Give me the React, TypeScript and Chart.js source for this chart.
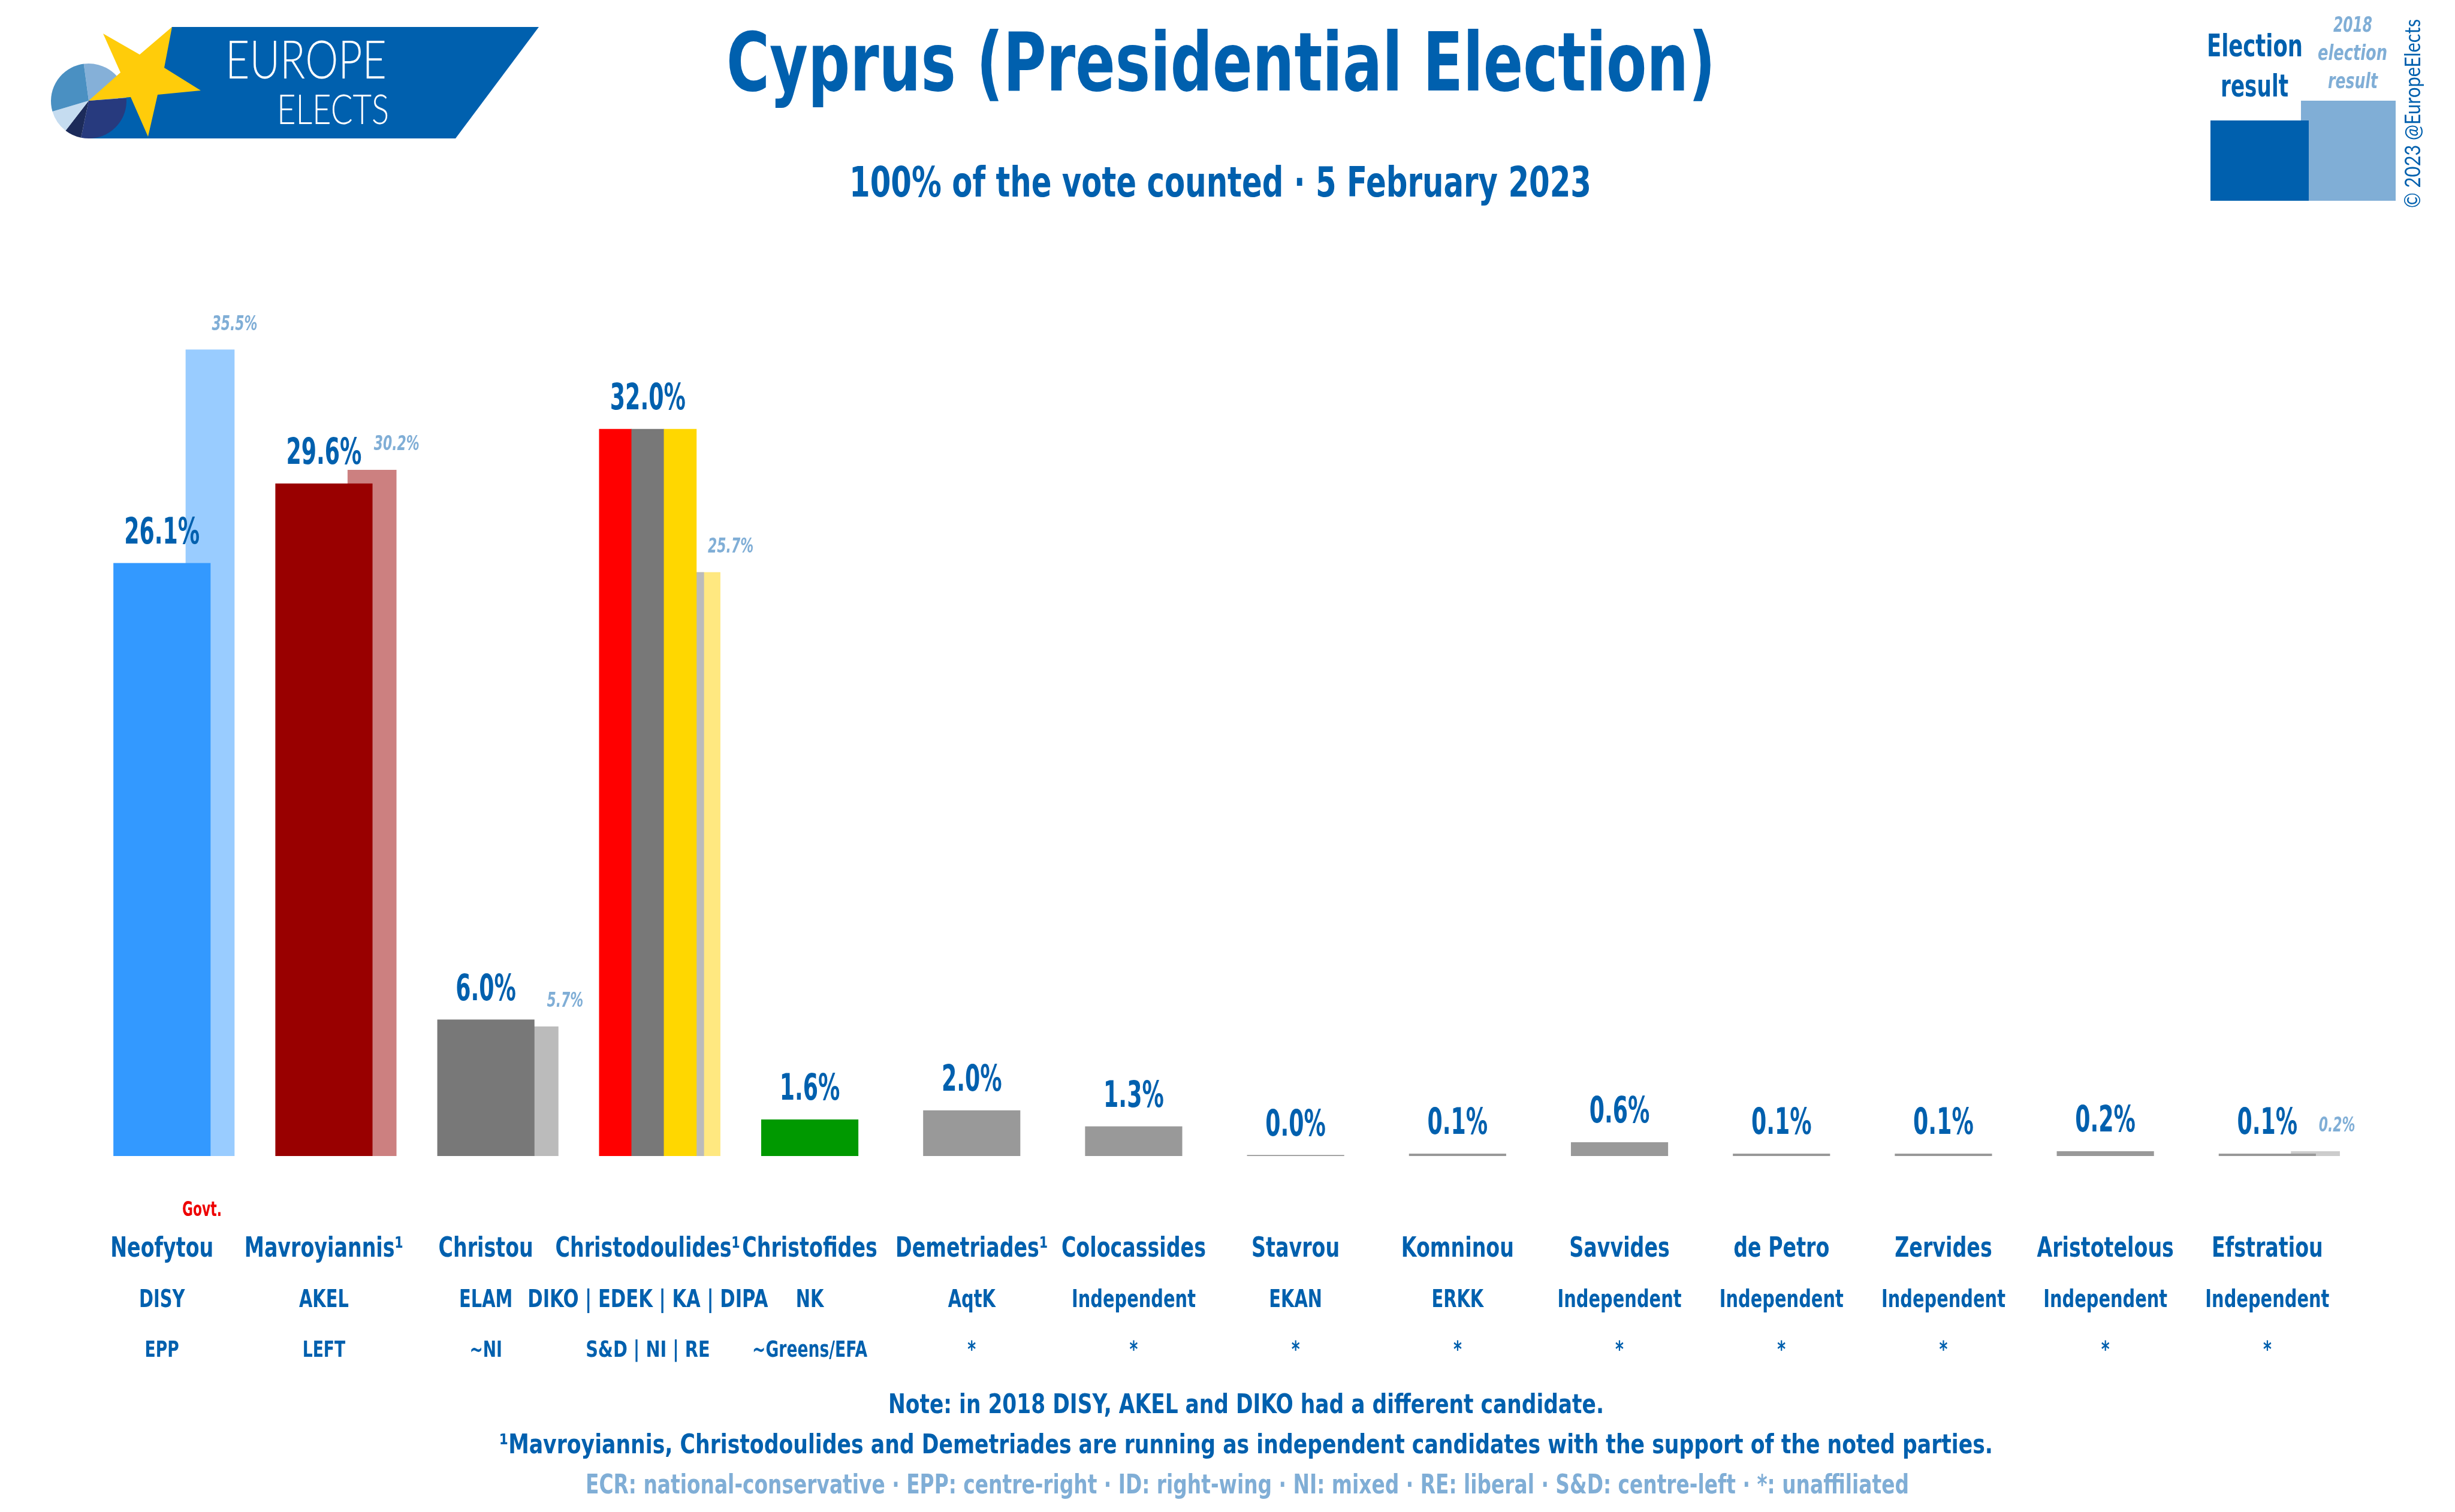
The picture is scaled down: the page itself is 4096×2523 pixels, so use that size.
import React, { useEffect, useRef } from "react";
import { Chart, registerables } from "chart.js";

Chart.register(...registerables);

const candidates = ["Neofytou", "Mavroyiannis¹", "Christou", "Christodoulides¹", "Christofides", "Demetriades¹", "Colocassides", "Stavrou", "Komninou", "Savvides", "de Petro", "Zervides", "Aristotelous", "Efstratiou"];
const parties = ["DISY", "AKEL", "ELAM", "DIKO | EDEK | KA | DIPA", "NK", "AqtK", "Independent", "EKAN", "ERKK", "Independent", "Independent", "Independent", "Independent", "Independent"];
const groups = ["EPP", "LEFT", "~NI", "S&D | NI | RE", "~Greens/EFA", "*", "*", "*", "*", "*", "*", "*", "*", "*"];
const results = [26.1, 29.6, 6.0, 32.0, 1.6, 2.0, 1.3, 0.0, 0.1, 0.6, 0.1, 0.1, 0.2, 0.1];
const resultColors = ["#3399FF", "#990000", "#787878", "rgba(0,0,0,0)", "#009900", "#999999", "#999999", "#999999", "#999999", "#999999", "#999999", "#999999", "#999999", "#999999"];
const previous = [35.5, 30.2, 5.7, 25.7, null, null, null, null, null, null, null, null, null, 0.2];
const previousColors = ["#99CCFF", "#CC8080", "#BBBBBB", "#FFE880", "#FFFFFF", "#FFFFFF", "#FFFFFF", "#FFFFFF", "#FFFFFF", "#FFFFFF", "#FFFFFF", "#FFFFFF", "#FFFFFF", "#CCCCCC"];
const previousLabelNudge = [0, 0, 11, 17, 0, 0, 0, 0, 0, 0, 0, 0, 0, -5];
const coalitionIndex = 3;
const coalitionColors = ["#FF0000", "#787878", "#FFD700"];
const coalitionOffsets = [-0.2, 0, 0.2];
const previousOffset = 0.297;

const BLUE = "#0060AE";
const PALE = "#80AED6";
const FONT = "DejaVu Sans";
const LOGO_FONT = "Lato";

function put(ctx: any, text: string, x: number, y: number, font: string, color: string, hscale = 1, align: any = "center") {
  ctx.save();
  ctx.font = font;
  ctx.fillStyle = color;
  ctx.textAlign = align;
  ctx.textBaseline = "alphabetic";
  ctx.translate(x, y);
  ctx.scale(hscale, 1);
  ctx.fillText(text, 0, 0);
  ctx.restore();
}

function fit(ctx: any, text: string, left: number, right: number, y: number, font: string, color: string) {
  ctx.save();
  ctx.font = font;
  const w = ctx.measureText(text).width;
  ctx.restore();
  put(ctx, text, (left + right) / 2, y, font, color, (right - left) / w);
}

function scaleFor(ctx: any, sample: string, width: number, font: string) {
  ctx.save();
  ctx.font = font;
  const w = ctx.measureText(sample).width;
  ctx.restore();
  return width / w;
}

function poly(ctx: any, pts: number[][], color: string) {
  ctx.fillStyle = color;
  ctx.beginPath();
  pts.forEach((p, i) => (i ? ctx.lineTo(p[0], p[1]) : ctx.moveTo(p[0], p[1])));
  ctx.closePath();
  ctx.fill();
}

function drawLogo(ctx: any) {
  poly(ctx, [[287, 45], [899, 45], [760, 231], [147, 231]], BLUE);
  const slices: [number, number, string][] = [
    [-97.5, -4.6, "#85B0D8"],
    [-4.6, 101.8, "#273A7E"],
    [101.8, 127.8, "#1C2B5A"],
    [127.8, 163.8, "#C5DCF0"],
    [163.8, 262.5, "#4A90C2"],
  ];
  slices.forEach(([a, b, c]) => {
    ctx.fillStyle = c;
    ctx.beginPath();
    ctx.moveTo(148, 168);
    ctx.ellipse(148, 168.5, 63, 62.5, 0, (a * Math.PI) / 180, (b * Math.PI) / 180);
    ctx.closePath();
    ctx.fill();
  });
  poly(ctx, [[287, 45], [274, 113], [335, 151], [263, 158], [247, 228], [218, 162], [148, 168], [201, 121], [172, 56], [233, 91]], "#FFCC0A");
  fit(ctx, "EUROPE", 376, 645, 131, `300 89px ${LOGO_FONT}`, "#FFFFFF");
  fit(ctx, "ELECTS", 462, 649, 207, `300 69px ${LOGO_FONT}`, "#FFFFFF");
}

function drawLegend(ctx: any) {
  ctx.fillStyle = PALE;
  ctx.fillRect(3839, 168, 158, 167);
  ctx.fillStyle = BLUE;
  ctx.fillRect(3688, 201, 164, 134);
  fit(ctx, "Election", 3682, 3842, 94, `700 52px ${FONT}`, BLUE);
  fit(ctx, "result", 3705, 3818, 161, `700 52px ${FONT}`, BLUE);
  fit(ctx, "2018", 3893, 3958, 53, `italic 700 36px ${FONT}`, PALE);
  fit(ctx, "election", 3867, 3983, 100, `italic 700 36px ${FONT}`, PALE);
  fit(ctx, "result", 3884, 3967, 147, `italic 700 36px ${FONT}`, PALE);
  ctx.save();
  ctx.translate(4038, 347);
  ctx.rotate(-Math.PI / 2);
  fit(ctx, "© 2023 @EuropeElects", 0, 315, 0, `400 37px ${LOGO_FONT}`, BLUE);
  ctx.restore();
}

const overlay = {
  id: "overlay",
  afterDraw(chart: any) {
    const ctx = chart.ctx;
    const xs = chart.scales.x;
    drawLogo(ctx);
    drawLegend(ctx);
    fit(ctx, "Cyprus (Presidential Election)", 1212, 2862, 151, `700 136px ${FONT}`, BLUE);
    fit(ctx, "100% of the vote counted · 5 February 2023", 1417, 2655, 328, `700 70px ${FONT}`, BLUE);

    const main = chart.getDatasetMeta(1).data;
    const old = chart.getDatasetMeta(0).data;
    const vf = `700 60px ${FONT}`;
    const vs = scaleFor(ctx, "29.6%", 126, vf);
    const of = `italic 700 34px ${FONT}`;
    const os = scaleFor(ctx, "35.5%", 76, of);
    results.forEach((v, i) => {
      put(ctx, v.toFixed(1) + "%", main[i].x, main[i].y - 33, vf, BLUE, vs);
      if (previous[i] !== null) {
        put(ctx, previous[i]!.toFixed(1) + "%", old[i].x + 41 + previousLabelNudge[i], old[i].y - 33, of, PALE, os);
      }
    });

    const nf = `700 46px ${FONT}`;
    const ns = scaleFor(ctx, "Neofytou", 172, nf);
    const pf = `700 41px ${FONT}`;
    const ps = scaleFor(ctx, "Independent", 207, pf);
    const gf = `700 37px ${FONT}`;
    const gs = scaleFor(ctx, "~Greens/EFA", 192, gf);
    candidates.forEach((c, i) => {
      const x = xs.getPixelForValue(i);
      put(ctx, c, x, 2097, nf, BLUE, ns);
      put(ctx, parties[i], x, 2181, pf, BLUE, parties[i].includes("|") ? ps * 1.06 : ps);
      put(ctx, groups[i], x, 2264, gf, BLUE, groups[i].includes("|") ? gs * 1.08 : gs);
    });
    fit(ctx, "Govt.", 304, 370, 2029, `700 34px ${FONT}`, "#EE0000");

    const t = `700 45px ${FONT}`;
    fit(ctx, "Note: in 2018 DISY, AKEL and DIKO had a different candidate.", 1482, 2676, 2358, t, BLUE);
    fit(ctx, "¹Mavroyiannis, Christodoulides and Demetriades are running as independent candidates with the support of the noted parties.", 833, 3325, 2425, t, BLUE);
    fit(ctx, "ECR: national-conservative · EPP: centre-right · ID: right-wing · NI: mixed · RE: liberal · S&D: centre-left · *: unaffiliated", 977, 3185, 2492, t, PALE);
  },
};

export default function App() {
  const ref = useRef<HTMLCanvasElement>(null);
  useEffect(() => {
    document.body.style.margin = "0";
    const chart = new Chart(ref.current!, {
      type: "bar",
      data: {
        datasets: [
          {
            label: "2018 election result",
            data: previous.map((y, i) => ({ x: i + previousOffset, y })),
            backgroundColor: previousColors,
            barThickness: 81,
            grouped: false,
            order: 4,
          },
          {
            label: "Election result",
            data: results.map((y, i) => ({ x: i, y })),
            backgroundColor: resultColors,
            barThickness: 161.5,
            grouped: false,
            minBarLength: 1.5,
            order: 2,
          },
          {
            label: "Christodoulides coalition",
            data: coalitionOffsets.map((o) => ({ x: coalitionIndex + o, y: results[coalitionIndex] })),
            backgroundColor: coalitionColors,
            barThickness: 54,
            grouped: false,
            order: 1,
          },
          {
            label: "Christodoulides coalition 2018",
            data: [{ x: coalitionIndex + 0.283, y: previous[coalitionIndex] }],
            backgroundColor: ["#BBBBBB"],
            barThickness: 34,
            grouped: false,
            order: 3,
          },
        ],
      } as any,
      options: {
        animation: false,
        responsive: false,
        devicePixelRatio: 1,
        layout: { padding: { left: 135.15, right: 178.05, top: 413, bottom: 594 } },
        plugins: { legend: { display: false }, tooltip: { enabled: false }, title: { display: false } },
        scales: {
          x: { type: "linear", min: -0.5, max: 13.5, offset: false, display: false },
          y: { type: "linear", min: 0, max: 40, display: false },
        },
      } as any,
      plugins: [overlay],
    });
    return () => chart.destroy();
  }, []);
  return <canvas ref={ref} width={4096} height={2523} style={{ display: "block", width: 4096, height: 2523 }} />;
}
